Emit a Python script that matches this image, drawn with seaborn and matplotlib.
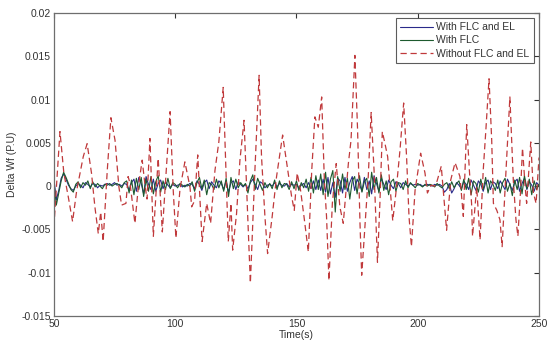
import numpy as np
import pandas as pd
import matplotlib
matplotlib.use("Agg")
import matplotlib.pyplot as plt
import seaborn as sns

# Red dashed curve: turning points (time, value)
red_time = [50, 52.5, 54.1, 55.9, 57.7, 59.4, 62.1, 63.7, 65.5, 66.9,
            68.3, 69.3, 70.3, 72.0, 73.5, 75.2, 76.8, 77.9, 79.7, 80.6,
            81.4, 83.4, 84.8, 86.4, 87.6, 88.4, 89.6, 91.0, 93.0, 94.7,
            95.9, 97.9, 99.2, 100.3, 102.0, 104.0, 106.1, 106.8, 108.0, 109.3,
            111.1, 113.0, 114.6, 116.4, 118.0, 119.8, 121.2, 121.9, 123.0, 123.7,
            125.3, 126.7, 128.4, 129.7, 131.0, 132.9, 134.6, 135.6, 137.0, 138.1,
            140.0, 141.8, 144.3, 146.0, 148.0, 149.1, 150.3, 151.7, 153.1, 154.9,
            156.3, 157.6, 159.0, 160.4, 161.5, 162.4, 163.4, 164.8, 166.4, 167.9,
            169.3, 171.4, 172.5, 174.1, 175.2, 176.2, 176.9, 178.5, 179.6, 180.8,
            182.0, 182.7, 183.4, 184.4, 185.4, 186.5, 187.6, 188.6, 189.7, 191.0,
            192.7, 194.2, 195.4, 196.4, 197.4, 198.9, 201.2, 203.0, 204.0, 205.5,
            207.0, 208.0, 209.7, 211.9, 213.6, 215.4, 217.4, 218.8, 220.2, 221.3,
            222.2, 222.6, 224.3, 225.7, 227.0, 228.1, 229.4, 230.5, 231.2, 232.6,
            233.9, 234.8, 236.4, 238.0, 239.4, 240.5, 241.3, 242.4, 243.2, 244.3,
            244.9, 246.0, 246.6, 247.7, 248.8, 250.0]
red_vals = [-0.0047, 0.0063, 0.0015, -0.0012, -0.0041, -0.0005, 0.0034, 0.0049, 0.0015, -0.0024,
            -0.0055, -0.0030, -0.0064, 0.0018, 0.0079, 0.0053, -0.0001, -0.0022, -0.0020, 0.0011,
            0.0003, -0.0043, -0.0001, 0.0030, 0.0000, -0.0015, 0.0055, -0.0058, 0.0032, -0.0053,
            0.0000, 0.0086, -0.0005, -0.0060, -0.0003, 0.0028, -0.0001, -0.0024, -0.0017, 0.0036,
            -0.0064, -0.0020, -0.0043, 0.0018, 0.0051, 0.0114, -0.0005, -0.0064, -0.0020, -0.0074,
            -0.0032, 0.0030, 0.0076, -0.0020, -0.0112, 0.0020, 0.0128, 0.0034, -0.0035, -0.0078,
            -0.0035, 0.0011, 0.0059, 0.0026, -0.0012, -0.0028, 0.0015, -0.0005, -0.0035, -0.0076,
            0.0018, 0.0080, 0.0068, 0.0103, 0.0007, -0.0035, -0.0109, -0.0020, 0.0026, -0.0024,
            -0.0043, 0.0026, 0.0053, 0.0151, 0.0065, -0.0043, -0.0103, -0.0035, 0.0011, 0.0085,
            0.0018, -0.0035, -0.0088, -0.0020, 0.0063, 0.0049, 0.0034, -0.0001, -0.0040, -0.0008,
            0.0042, 0.0096, 0.0034, -0.0035, -0.0070, -0.0005, 0.0038, 0.0015, -0.0008, 0.0001,
            0.0000, 0.0006, 0.0023, -0.0051, 0.0007, 0.0027, 0.0011, -0.0035, 0.0071, 0.0018,
            -0.0020, -0.0058, -0.0001, -0.0062, 0.0018, 0.0065, 0.0124, 0.0053, -0.0020, -0.0028,
            -0.0039, -0.0070, 0.0018, 0.0103, 0.0007, -0.0039, -0.0058, -0.0005, 0.0044, -0.0001,
            -0.0020, 0.0026, 0.0051, -0.0008, -0.0020, 0.0033]

# Small curves sampled once per second, 50..250 s
small_time = list(range(50, 251))
green_vals = [
    0.0005, -0.0022, -0.0008, 0.0006, 0.0016, 0.0010, 0.0003, -0.0004, -0.0007, 0.0002,
    0.0005, -0.0002, 0.0004, 0.0001, 0.0006, -0.0003, 0.0005, -0.0001, 0.0003, 0.0000,
    -0.0003, 0.0002, 0.0001, 0.0003, 0.0000, 0.0002, 0.0003, 0.0001, -0.0002, 0.0004,
    0.0006, -0.0008, 0.0007, -0.0010, 0.0009, -0.0004, 0.0010, -0.0012, 0.0008, -0.0006,
    0.0011, -0.0009, 0.0005, 0.0012, -0.0007, 0.0006, -0.0004, 0.0009, -0.0003, 0.0004,
    0.0002, -0.0002, 0.0003, 0.0001, -0.0001, 0.0002, 0.0000, 0.0005, -0.0006, 0.0004,
    0.0010, -0.0003, 0.0007, -0.0010, 0.0004, 0.0002, -0.0004, 0.0008, -0.0002, 0.0006,
    -0.0006, 0.0009, -0.0012, 0.0010, -0.0003, 0.0008, -0.0002, 0.0004, 0.0000, 0.0003,
    -0.0008, 0.0006, 0.0013, -0.0004, 0.0009, 0.0002, -0.0005, 0.0004, -0.0002, 0.0003,
    -0.0003, 0.0007, -0.0004, 0.0006, -0.0002, 0.0003, 0.0002, -0.0004, 0.0005, -0.0003,
    0.0006, -0.0005, 0.0004, -0.0002, 0.0008, -0.0006, 0.0010, -0.0008, 0.0012, -0.0004,
    0.0014, -0.0010, 0.0016, -0.0012, 0.0008, 0.0018, -0.0030, 0.0011, -0.0006, 0.0014,
    -0.0004, 0.0009, -0.0015, 0.0006, 0.0011, -0.0009, 0.0012, -0.0007, 0.0005, 0.0009,
    -0.0012, 0.0016, -0.0004, 0.0010, -0.0008, 0.0013, -0.0005, 0.0006, -0.0010, 0.0005,
    0.0008, -0.0006, 0.0004, 0.0003, -0.0004, 0.0006, -0.0002, 0.0004, 0.0001, -0.0002,
    0.0003, 0.0001, -0.0001, 0.0002, 0.0000, 0.0002, 0.0001, -0.0001, 0.0003, 0.0000,
    -0.0002, 0.0002, 0.0004, -0.0003, 0.0005, -0.0002, 0.0003, 0.0006, -0.0005, 0.0008,
    -0.0004, 0.0009, -0.0010, 0.0006, 0.0003, -0.0007, 0.0008, -0.0004, 0.0010, -0.0008,
    0.0006, 0.0002, -0.0005, 0.0007, -0.0008, 0.0004, 0.0009, -0.0006, 0.0003, -0.0011,
    0.0007, -0.0004, 0.0010, -0.0009, 0.0012, -0.0003, 0.0008, -0.0010, 0.0006, -0.0004,
    0.0002]
blue_vals = [
    0.0008, -0.0016, -0.0005, 0.0009, 0.0014, 0.0008, 0.0001, -0.0003, -0.0005, 0.0000,
    0.0003, 0.0001, -0.0002, 0.0004, 0.0002, -0.0001, 0.0003, 0.0002, -0.0002, 0.0001,
    0.0000, 0.0002, 0.0003, 0.0001, 0.0002, 0.0004, 0.0001, 0.0002, 0.0000, 0.0003,
    0.0002, -0.0005, 0.0004, 0.0008, -0.0006, 0.0010, 0.0003, -0.0009, 0.0011, 0.0002,
    -0.0004, 0.0008, -0.0006, 0.0003, 0.0007, -0.0003, 0.0005, 0.0001, -0.0002, 0.0002,
    0.0000, 0.0001, 0.0002, -0.0001, 0.0001, 0.0000, 0.0003, 0.0002, -0.0003, 0.0006,
    0.0002, -0.0005, 0.0004, 0.0007, -0.0003, 0.0005, 0.0001, -0.0002, 0.0006, 0.0003,
    -0.0004, 0.0006, -0.0007, 0.0004, 0.0006, -0.0004, 0.0005, 0.0002, -0.0001, 0.0002,
    -0.0003, 0.0004, 0.0008, 0.0002, -0.0004, 0.0005, 0.0003, -0.0002, 0.0001, 0.0002,
    0.0000, 0.0004, -0.0001, 0.0003, 0.0001, 0.0000, 0.0003, -0.0001, 0.0002, 0.0001,
    0.0002, -0.0002, 0.0001, 0.0003, -0.0002, 0.0004, -0.0003, 0.0006, -0.0004, 0.0007,
    -0.0005, 0.0008, -0.0007, 0.0010, -0.0009, 0.0004, -0.0013, 0.0009, 0.0006, -0.0008,
    0.0010, -0.0006, 0.0004, 0.0011, -0.0005, 0.0008, 0.0002, -0.0006, 0.0010, -0.0004,
    0.0006, -0.0009, 0.0012, 0.0003, -0.0006, 0.0009, 0.0002, -0.0004, 0.0007, 0.0001,
    -0.0003, 0.0005, 0.0003, -0.0002, 0.0004, 0.0002, 0.0000, 0.0003, 0.0001, 0.0002,
    0.0001, 0.0002, 0.0000, 0.0001, 0.0002, 0.0001, 0.0000, 0.0002, 0.0001, 0.0002,
    0.0000, -0.0007, -0.0004, 0.0003, -0.0008, -0.0003, 0.0004, 0.0001, -0.0003, 0.0005,
    0.0002, -0.0004, 0.0007, 0.0001, -0.0005, 0.0006, 0.0002, -0.0006, 0.0004, 0.0007,
    -0.0004, 0.0005, 0.0003, -0.0003, 0.0006, 0.0001, -0.0004, 0.0008, 0.0002, -0.0005,
    0.0005, 0.0008, -0.0006, 0.0003, 0.0009, -0.0004, 0.0005, 0.0001, -0.0006, 0.0004,
    0.0001]

x_ticks = [50, 100, 150, 200, 250]
y_ticks = [-0.015, -0.01, -0.005, 0, 0.005, 0.01, 0.015, 0.02]
y_tick_labels = ["-0.015", "-0.01", "-0.005", "0", "0.005", "0.01", "0.015", "0.02"]

red_df = pd.DataFrame({"t": red_time, "v": red_vals})
small_df = pd.DataFrame({"t": small_time, "green": green_vals, "blue": blue_vals})

sns.set_style("white")
plt.rcParams["font.family"] = ["Liberation Sans", "DejaVu Sans"]

fig, ax = plt.subplots(figsize=(5.5, 3.51), dpi=100)
fig.subplots_adjust(left=0.098, right=0.98, top=0.963, bottom=0.1)

sns.lineplot(data=small_df, x="t", y="blue", ax=ax, color="#2a2a8a", lw=0.8,
             label="With FLC and EL", estimator=None)
sns.lineplot(data=small_df, x="t", y="green", ax=ax, color="#1d5a2e", lw=0.8,
             label="With FLC", estimator=None)
sns.lineplot(data=red_df, x="t", y="v", ax=ax, color="#c0393b", lw=0.9,
             dashes=False, label="Without FLC and EL", estimator=None)
ax.lines[-1].set_dashes([5, 3])

ax.set_xlim(50, 250)
ax.set_ylim(-0.015, 0.02)
ax.set_xticks(x_ticks)
ax.set_xticklabels([str(v) for v in x_ticks])
ax.set_yticks(y_ticks)
ax.set_yticklabels(y_tick_labels)
ax.tick_params(direction="in", length=3.5, width=0.8, labelsize=7.5,
               colors="#333333", top=True, right=True, pad=2)
for sp in ax.spines.values():
    sp.set_visible(True)
    sp.set_color("#6e6e6e")
    sp.set_linewidth(0.9)

ax.set_xlabel("Time(s)", fontsize=7.5, color="#333333", labelpad=1)
ax.set_ylabel("Delta Wf (P.U)", fontsize=7.5, color="#333333", labelpad=3)

leg = ax.legend(loc="upper right", fontsize=7.5, frameon=True, fancybox=False,
                handlelength=3.2, handletextpad=0.3, borderpad=0.4,
                labelspacing=0.3, borderaxespad=0.5)
leg.get_frame().set_edgecolor("#333333")
leg.get_frame().set_linewidth(0.8)
for txt in leg.get_texts():
    txt.set_color("#333333")

fig.savefig("out.png", dpi=100, facecolor="white")
